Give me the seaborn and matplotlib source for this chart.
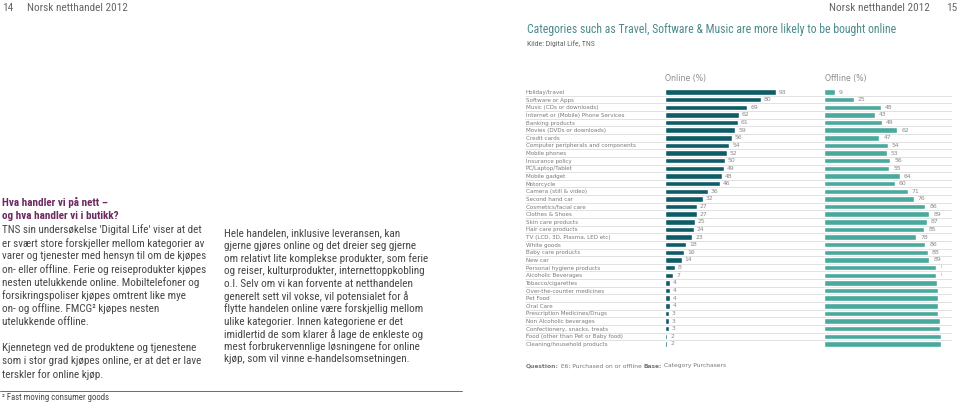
import numpy as np
import pandas as pd
import matplotlib
matplotlib.use("Agg")
import matplotlib.pyplot as plt
import seaborn as sns
from matplotlib import font_manager

# ---------------- data ----------------
categories = [
    "Holiday/travel", "Software or Apps", "Music (CDs or downloads)",
    "Internet or (Mobile) Phone Services", "Banking products",
    "Movies (DVDs or downloads)", "Credit cards",
    "Computer peripherals and components", "Mobile phones", "Insurance policy",
    "PC/Laptop/Tablet", "Mobile gadget", "Motorcycle", "Camera (still & video)",
    "Second hand car", "Cosmetics/facial care", "Clothes & Shoes",
    "Skin care products", "Hair care products", "TV (LCD, 3D, Plasma, LED etc)",
    "White goods", "Baby care products", "New car", "Personal hygiene products",
    "Alcoholic Beverages", "Tobacco/cigarettes", "Over-the-counter medicines",
    "Pet Food", "Oral Care", "Prescription Medicines/Drugs",
    "Non Alcoholic beverages", "Confectionery, snacks, treats",
    "Food (other than Pet or Baby food)", "Cleaning/household products",
]
online = [93, 80, 69, 62, 61, 59, 56, 54, 52, 50, 49, 48, 46, 36, 32, 27, 27,
          25, 24, 23, 18, 16, 14, 8, 7, 4, 4, 4, 4, 3, 3, 3, 2, 2]
offline = [9, 25, 48, 43, 49, 62, 47, 54, 53, 56, 55, 64, 60, 71, 76, 86, 89,
           87, 85, 78, 86, 88, 89, 95, 95, 96, 97, 97, 97, 97, 98, 98, 99, 99]

title = "Categories such as Travel, Software & Music are more likely to be bought online"
source = "Kilde: Digital Life, TNS"
heading = ["Hva handler vi på nett –", "og hva handler vi i butikk?"]
col1 = [
    "TNS sin undersøkelse 'Digital Life' viser at det",
    "er svært store forskjeller mellom kategorier av",
    "varer og tjenester med hensyn til om de kjøpes",
    "on- eller offline. Ferie og reiseprodukter kjøpes",
    "nesten utelukkende online. Mobiltelefoner og",
    "forsikringspoliser kjøpes omtrent like mye",
    "on- og offline. FMCG² kjøpes nesten",
    "utelukkende offline.",
    "",
    "Kjennetegn ved de produktene og tjenestene",
    "som i stor grad kjøpes online, er at det er lave",
    "terskler for online kjøp.",
]
col2 = [
    "Hele handelen, inklusive leveransen, kan",
    "gjerne gjøres online og det dreier seg gjerne",
    "om relativt lite komplekse produkter, som ferie",
    "og reiser, kulturprodukter, internettoppkobling",
    "o.l. Selv om vi kan forvente at netthandelen",
    "generelt sett vil vokse, vil potensialet for å",
    "flytte handelen online være forskjellig mellom",
    "ulike kategorier. Innen kategoriene er det",
    "imidlertid de som klarer å lage de enkleste og",
    "mest forbrukervennlige løsningene for online",
    "kjøp, som vil vinne e-handelsomsetningen.",
]

# ---------------- style ----------------
sns.set_theme(style="white")
plt.rcParams["font.family"] = ["DejaVu Sans"]
avail = {f.name for f in font_manager.fontManager.ttflist}


def pick(*names):
    for n in names:
        if n in avail:
            return n
    return "DejaVu Sans"


NARROW = pick("Liberation Sans Narrow", "Roboto Condensed", "Open Sans Condensed",
              "Roboto", "Liberation Sans")
CHART = "DejaVu Sans"

ON_C = "#0e5c67"
OFF_C = "#4aa99d"
GRID = "#dcdcdc"
LABEL = "#8a8a8a"
BODY = "#474747"
PURPLE = "#6e2b61"
TEAL_T = "#4b8b8c"

W, H = 960, 403
fig = plt.figure(figsize=(9.6, 4.03), dpi=100)
fig.patch.set_facecolor("white")
R = fig.canvas.get_renderer()


def fx(px):
    return px / W


def fy(py):
    return 1 - py / H


def size_for(s, target_w, family, weight="normal", size0=10):
    t = fig.text(0, 0, s, fontsize=size0, family=family, fontweight=weight)
    w = t.get_window_extent(R).width
    t.remove()
    return size0 * target_w / w


def block(x, y0, dy, lines, size, family, color, weight="normal"):
    for i, s in enumerate(lines):
        if s:
            fig.text(fx(x), fy(y0 + i * dy), s, fontsize=size, family=family,
                     color=color, fontweight=weight, va="center", ha="left")


# ---------------- page header ----------------
hs = size_for("Norsk netthandel 2012", 100, NARROW)
fig.text(fx(2), fy(8), "14", fontsize=hs, family=NARROW, color="#666", va="center")
fig.text(fx(27), fy(8), "Norsk netthandel 2012", fontsize=hs, family=NARROW,
         color="#666", va="center")
fig.text(fx(930), fy(8), "Norsk netthandel 2012", fontsize=hs, family=NARROW,
         color="#666", va="center", ha="right")
fig.text(fx(957), fy(8), "15", fontsize=hs, family=NARROW, color="#666",
         va="center", ha="right")

# title + source
ts = size_for(title, 368, NARROW)
fig.text(fx(527), fy(30), title, fontsize=ts, family=NARROW, color=TEAL_T, va="center")
ss = size_for(source, 68, NARROW)
fig.text(fx(527), fy(44), source, fontsize=ss, family=NARROW, color="#666", va="center")

# ---------------- left text columns ----------------
bs1 = size_for(col1[3], 210, NARROW)
bs2 = size_for(col2[2], 203, NARROW)
bs = min(bs1, bs2)
block(2, 202, 14.0, heading, bs, NARROW, PURPLE, weight="bold")
block(2, 230, 13.1, col1, bs, NARROW, BODY)
block(224, 233, 12.65, col2, bs, NARROW, BODY)

# footer
fig.add_artist(plt.Line2D([0, fx(462)], [fy(391), fy(391)], color="#555", lw=0.6))
fs = size_for("² Fast moving consumer goods", 106, NARROW)
fig.text(fx(2), fy(398), "² Fast moving consumer goods", fontsize=fs, family=NARROW,
         color=BODY, va="center")

# ---------------- chart ----------------
n = len(categories)
top_px, bot_px = 88.2, 347.8
ax_bottom = fy(bot_px)
ax_h = (bot_px - top_px) / H
df = pd.DataFrame({"category": categories, "online": online, "offline": offline})

# background separator lines
ax_bg = fig.add_axes([fx(525), ax_bottom, fx(952 - 525), ax_h])
ax_bg.set_xlim(0, 1)
ax_bg.set_ylim(n - 0.5, -0.5)
ax_bg.hlines(np.arange(n) + 0.5, 0, 1, color=GRID, lw=0.6)
ax_bg.axis("off")

cs = size_for("Computer peripherals and components", 110, CHART)

ax_on = fig.add_axes([fx(665), ax_bottom, fx(119.4), ax_h])
sns.barplot(data=df, y="category", x="online", color=ON_C, saturation=1,
            width=0.72, ax=ax_on, orient="h")
ax_on.set_xlim(0, 100)
ax_on.set_ylim(n - 0.5, -0.5)
ax_on.set_yticks(range(n))
ax_on.set_yticklabels(categories, ha="left", fontsize=cs, color="#7a7a7a")
ax_on.tick_params(axis="y", length=0, pad=(665 - 526) * 0.72)
ax_on.set_xticks([])
ax_on.set_xlabel("")
ax_on.set_ylabel("")
ax_on.patch.set_alpha(0)
for sp in ax_on.spines.values():
    sp.set_visible(False)
for c in ax_on.containers:
    ax_on.bar_label(c, fmt="%d", padding=2, fontsize=4.4, color=LABEL)

ax_off = fig.add_axes([fx(824), ax_bottom, fx(118), ax_h])
sns.barplot(data=df, y="category", x="offline", color=OFF_C, saturation=1,
            width=0.72, ax=ax_off, orient="h")
ax_off.set_xlim(0, 100)
ax_off.set_ylim(n - 0.5, -0.5)
ax_off.set_yticks([])
ax_off.set_xticks([])
ax_off.set_xlabel("")
ax_off.set_ylabel("")
ax_off.patch.set_alpha(0)
for sp in ax_off.spines.values():
    sp.set_visible(False)
for c in ax_off.containers:
    anns = ax_off.bar_label(c, fmt="%d", padding=3, fontsize=4.4, color=LABEL)
    for a in anns:
        a.set_clip_path(ax_off.patch)
        a.set_clip_on(True)

# column headers
fig.text(fx(665), fy(78), "Online (%)", fontsize=5.6, family=CHART, color="#8a8a8a",
         va="center")
fig.text(fx(825), fy(78), "Offline (%)", fontsize=5.6, family=CHART, color="#8a8a8a",
         va="center")

# question / base note
qs = 4.3
x = 526
for txt, wt in [("Question:", "bold"), (" E6; Purchased on or offline ", "normal"),
                ("Base:", "bold"), (" Category Purchasers", "normal")]:
    t = fig.text(fx(x), fy(366), txt, fontsize=qs, family=CHART, fontweight=wt,
                 color="#777", va="center")
    x += t.get_window_extent(R).width

fig.savefig("out.png", dpi=100, facecolor="white")
